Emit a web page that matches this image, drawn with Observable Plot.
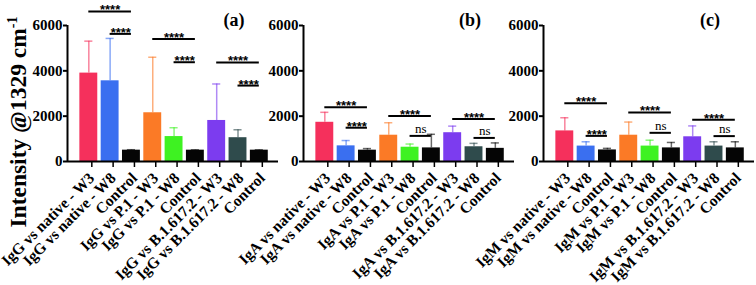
<!DOCTYPE html>
<html><head><meta charset="utf-8">
<script src="https://cdn.jsdelivr.net/npm/d3@7"></script>
<script src="https://cdn.jsdelivr.net/npm/@observablehq/plot@0.6"></script>
<style>
body{margin:0;background:#fff;overflow:hidden}
#wrap{position:relative;width:756px;height:285px;overflow:hidden;font-family:"Liberation Serif",serif}
.panel{position:absolute;top:0}
#ytitle{position:absolute;left:18px;top:122px;transform:translate(-50%,-50%) rotate(-90deg);white-space:nowrap;font:bold 23.5px "Liberation Serif",serif;color:#000}
#ytitle sup{font-size:0.6em}
</style></head><body>
<div id="wrap"><div id="ytitle">Intensity @1329 cm<sup>-1</sup></div></div>
<script>
const labelsA = ["IgG vs native - W3","IgG vs native - W8","Control","IgG vs P.1 - W3","IgG vs P.1 - W8","Control","IgG vs B.1.617.2 - W3","IgG vs B.1.617.2 - W8","Control"];
const labelsB = ["IgA vs native - W3","IgA vs native - W8","Control","IgA vs P.1 - W3","IgA vs P.1 - W8","Control","IgA vs B.1.617.2 - W3","IgA vs B.1.617.2 - W8","Control"];
const labelsC = ["IgM vs native - W3","IgM vs native - W8","Control","IgM vs P.1 - W3","IgM vs P.1 - W8","Control","IgM vs B.1.617.2 - W3","IgM vs B.1.617.2 - W8","Control"];

const meanA = [3900, 3560, 500, 2150, 1100, 500, 1810, 1050, 500];
const sdA   = [1410, 1870, 20, 2450, 390, 15, 1610, 350, 15];
const meanB = [1730, 690, 500, 1160, 630, 600, 1270, 650, 580];
const sdB   = [440, 235, 70, 550, 140, 600, 290, 150, 240];
const meanC = [1350, 680, 510, 1160, 680, 600, 1090, 680, 600];
const sdC   = [580, 190, 70, 580, 260, 240, 480, 190, 270];

const barColors = ["#f5305c", "#3a6ff0", "#050505", "#fb7a26", "#3ef222", "#050505", "#7c3cef", "#2f4b4c", "#050505"];

const sigFrom = [0, 1, 3, 4, 6, 7];
const sigTo   = [2, 2, 5, 5, 8, 8];
const sigYA = [6620, 5630, 5400, 4380, 4370, 3350];
const sigTextA = ["****", "****", "****", "****", "****", "****"];
const sigYB = [2390, 1490, 2010, 1130, 1880, 1040];
const sigTextB = ["****", "****", "****", "ns", "****", "ns"];
const sigYC = [2570, 1130, 2165, 1265, 1845, 1120];
const sigTextC = ["****", "****", "****", "ns", "****", "ns"];

const yTicks = [0, 2000, 4000, 6000];
const panelTags = ["(a)", "(b)", "(c)"];

const xDomain = [-1, 8.9];

function panel(labels, means, sds, sigY, sigText, tag, left) {
  const data = labels.map((label, i) => ({i, label, mean: means[i], sd: sds[i], color: barColors[i]}));
  const sig = sigFrom.map((f, k) => ({from: f, to: sigTo[k], y: sigY[k], text: sigText[k]}));
  const plot = Plot.plot({
    width: 288, height: 285, marginLeft: 67, marginRight: 10, marginTop: 25, marginBottom: 124,
    style: {fontFamily: '"Liberation Serif", serif', background: "transparent", overflow: "visible", color: "#000"},
    x: {domain: xDomain},
    y: {domain: [0, 6000]},
    color: {type: "identity"},
    marks: [
      Plot.ruleX(data, {x: "i", y1: "mean", y2: d => d.mean + d.sd, stroke: "color", strokeOpacity: 0.6, strokeWidth: 1.5}),
      Plot.ruleY(data, {y: d => d.mean + d.sd, x1: d => d.i - 0.19, x2: d => d.i + 0.19, stroke: "color", strokeOpacity: 0.6, strokeWidth: 1.5}),
      Plot.rect(data, {x1: d => d.i - 0.42, x2: d => d.i + 0.42, y1: 0, y2: "mean", fill: "color"}),
      Plot.ruleY(sig, {y: "y", x1: "from", x2: "to", strokeWidth: 2, stroke: "black"}),
      Plot.text(sig.filter(s => s.text !== "ns"), {x: d => (d.from + d.to) / 2, y: "y", text: "text", fontFamily: '"Liberation Sans", sans-serif', fontSize: 13, fontWeight: "bold", lineAnchor: "bottom", dy: 3, fill: "black"}),
      Plot.text(sig.filter(s => s.text === "ns"), {x: d => (d.from + d.to) / 2, y: "y", text: "text", fontSize: 13, lineAnchor: "bottom", dy: -3, fill: "black"}),
      Plot.text([tag], {x: 7, y: 6220, dx: -4, text: d => d, fontSize: 18, fontWeight: "bold", lineAnchor: "middle", fill: "black"}),
      Plot.axisY({ticks: yTicks, tickFormat: "d", tickSize: 4, tickPadding: 1, fontSize: 15, fontWeight: "bold", strokeWidth: 2, label: null}),
      Plot.axisX({ticks: d3.range(labels.length), tickFormat: i => labels[i], tickRotate: -45, tickSize: 6, tickPadding: 8, dx: 3, fontSize: 15.5, fontWeight: "bold", strokeWidth: 1.5, label: null}),
      Plot.ruleY([0], {strokeWidth: 2, stroke: "black"}),
      Plot.ruleX([xDomain[0]], {y1: 0, y2: 6000, strokeWidth: 2, stroke: "black"})
    ]
  });
  plot.classList.add("panel");
  plot.style.left = left + "px";
  document.getElementById("wrap").appendChild(plot);
}

panel(labelsA, meanA, sdA, sigYA, sigTextA, panelTags[0], 0);
panel(labelsB, meanB, sdB, sigYB, sigTextB, panelTags[1], 236);
panel(labelsC, meanC, sdC, sigYC, sigTextC, panelTags[2], 476);
</script>
</body></html>
